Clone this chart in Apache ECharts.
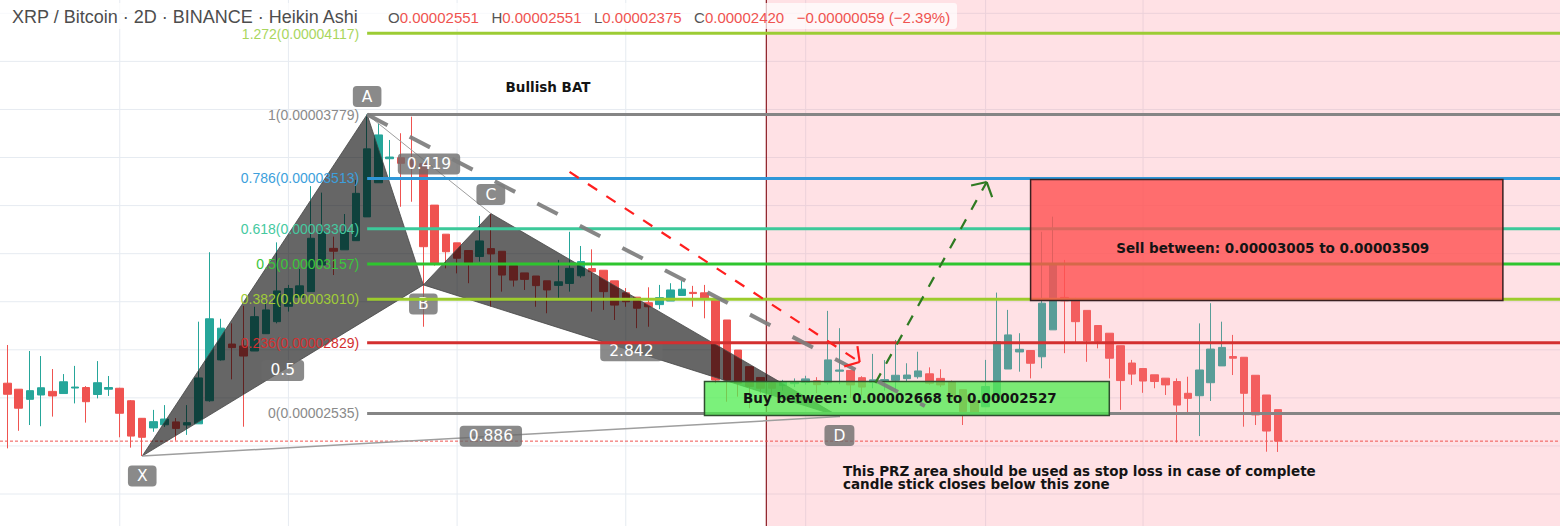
<!DOCTYPE html>
<html><head><meta charset="utf-8">
<script src="https://cdn.jsdelivr.net/npm/echarts@6/dist/echarts.min.js"></script>
<style>html,body{margin:0;padding:0;background:#fff;overflow:hidden}#c{width:1560px;height:526px}</style>
</head><body><div id="c"></div>
<script>
// ---- DATA (prices in satoshi, 1e-8 BTC; x = candle index, 2D candles) ----
const haOpen  = [2661,2636,2594,2612,2627,2618,2641,2643,2614,2636,2640,2588,2515,2475,2488,2500,2487,2492,2588,2758,2824,2816,2795,2867,2917,2981,3018,3042,3153,3222,3216,3254,3353,3495,3595,3599,3588,3574,3402,3281,3245,3213,3188,3221,3210,3150,3120,3107,3087,3068,3076,3108,3138,3131,3087,3037,3019,2996,2988,3003,3026,3039,3037,3010,2924,2799,2730,2685,2662,2651,2659,2664,2671,2663,2711,2714,2684,2665,2670,2673,2680,2688,2700,2681,2668,2634,2589,2563,2605,2720,2791,2797,2771,2883,3018,3011,2964,2901,2869,2817,2745,2722,2696,2682,2668,2619,2609,2663,2733,2772,2769,2694,2612,2551];
const haClose = [2615,2557,2630,2642,2608,2667,2645,2584,2663,2643,2536,2441,2436,2501,2512,2473,2497,2683,2929,2890,2809,2774,2938,2966,3045,3055,3066,3264,3291,3210,3291,3451,3636,3694,3602,3576,3560,3229,3160,3208,3181,3162,3253,3199,3111,3090,3093,3067,3049,3083,3139,3167,3125,3042,2986,3000,2973,2979,3017,3049,3052,3034,3010,2674,2674,2661,2647,2640,2640,2667,2668,2679,2655,2758,2716,2654,2645,2675,2676,2694,2695,2712,2661,2654,2600,2543,2536,2647,2834,2862,2802,2744,2994,3153,3004,2917,2838,2836,2765,2672,2699,2670,2668,2654,2570,2598,2716,2803,2810,2765,2619,2529,2462,2420];
const haLow   = [2390,2463,2487,2482,2522,2618,2577,2497,2598,2608,2436,2393,2358,2459,2479,2422,2446,2492,2584,2755,2677,2480,2795,2867,2910,2959,3018,3042,3153,3111,3216,3254,3353,3495,3507,3395,3416,2896,3150,3139,3118,3077,3167,2979,3042,3063,3049,2979,2952,3014,3042,3100,2959,2966,2924,2979,2890,2896,2969,3003,3026,2979,2931,2661,2584,2605,2557,2619,2600,2630,2645,2655,2620,2655,2657,2600,2610,2640,2630,2633,2667,2680,2655,2645,2590,2487,2530,2563,2600,2720,2709,2681,2723,2883,2786,2827,2750,2806,2681,2550,2654,2621,2640,2612,2414,2529,2441,2587,2733,2695,2480,2487,2376,2375];
const haHigh  = [2820,2636,2795,2774,2720,2699,2733,2649,2753,2691,2642,2591,2516,2550,2570,2516,2570,2917,3206,2929,2910,2983,2979,3000,3247,3070,3136,3481,3454,3271,3365,3507,3779,3742,3673,3701,3770,3574,3402,3281,3245,3213,3357,3367,3210,3150,3120,3107,3087,3174,3291,3232,3218,3131,3087,3057,3019,3060,3070,3077,3086,3066,3070,3010,2924,2799,2730,2685,2665,2675,2681,2692,2686,2962,2890,2714,2690,2783,2757,2841,2744,2792,2727,2719,2672,2634,2589,2758,3038,2966,2869,2797,3291,3354,3174,3016,2964,2901,2869,2817,2758,2722,2696,2682,2681,2688,2910,2994,2917,2862,2769,2694,2612,2551];
const lastChange = -59;          // satoshi
const lastChangePct = -2.39;     // %
const lastPrice = [2420];

// Fibonacci retracement (ratio, price)
const fibRatios = [1.272, 1, 0.786, 0.618, 0.5, 0.382, 0.236, 0];
const fibPrices = [4117, 3779, 3513, 3304, 3157, 3010, 2829, 2535];
const fibStart = 32;             // anchored at point A

// Bullish BAT harmonic points [candle index, price]
const patternNames = ['X', 'A', 'B', 'C', 'D'];
const patternPoints = [[12, 2358], [32, 3779], [37, 3070], [43, 3367], [74, 2522]];
const patternRatios = ['0.5', '0.419', '2.842', '0.886'];   // XB, AC, BD, XD

// Zones [x0, x1, priceLow, priceHigh]
const buyZone  = [62, 98, 2527, 2668];
const sellZone = [91, 133, 3005, 3509];

// Trend lines [[x, price], [x, price]]
const grayDashLine = [[32, 3779], [81.6, 2566]];
const redArrowLine = [[50, 3540], [75.8, 2749]];
const greenArrowLine = [[77.2, 2662], [87.1, 3498]];

// Session start (shaded area) and grid ticks
const sessionStart = [67.5];
const gridXTicks = [10, 25, 40, 55, 71, 87, 101];
const gridYTicks = [2200, 2400, 2600, 2800, 3000, 3200, 3400, 3600, 3800, 4000, 4200];

// ---- VIEW ----
const X_MIN = -0.649, X_MAX = 138.08, Y_MIN = 2066.9, Y_MAX = 4255.4;
const fmt = v => (v / 1e8).toFixed(8);
const fibColors = ['#9ccc34', '#858585', '#2f97d8', '#3cc99a', '#2ec52e', '#9ccc2c', '#d32f2f', '#858585'];
const fibTextColors = ['#a9d65e', '#8a8a8a', '#3d9fdc', '#45c9a0', '#3cc63c', '#a0cc38', '#d33030', '#8a8a8a'];
const BOLD = 'bold 13.5px "DejaVu Sans", Verdana, sans-serif';

function seg(a, b, stroke, w, dash) {
  return { type: 'line', shape: { x1: a[0], y1: a[1], x2: b[0], y2: b[1] },
    style: { stroke: stroke, lineWidth: w, lineDash: dash || null } };
}
function barbs(a, b, stroke, w, len, ang) {
  const dx = b[0] - a[0], dy = b[1] - a[1], L = Math.hypot(dx, dy);
  const ux = -dx / L, uy = -dy / L, out = [];
  [1, -1].forEach(s => {
    const c = Math.cos(s * ang), sn = Math.sin(s * ang);
    const vx = ux * c - uy * sn, vy = ux * sn + uy * c;
    out.push(seg(b, [b[0] + vx * len, b[1] + vy * len], stroke, w));
  });
  return out;
}

const candleData = haOpen.map((o, i) => [i, o, haClose[i], haLow[i], haHigh[i]]);
const P = {}; patternNames.forEach((n, i) => P[n] = patternPoints[i]);
const mid = (p, q) => [(p[0] + q[0]) / 2, (p[1] + q[1]) / 2];
const ratioAnchors = [mid(P.X, P.B), mid(P.A, P.C), mid(P.B, P.D), mid(P.X, P.D)];
const letterDy = { X: 20, A: -18, B: 19, C: -19, D: 19 };

const chart = echarts.init(document.getElementById('c'), null, { renderer: 'svg', width: 1560, height: 526 });
const option = {
  animation: false,
  backgroundColor: '#ffffff',
  grid: { left: 0, right: 0, top: 0, bottom: 0 },
  xAxis: { type: 'value', min: X_MIN, max: X_MAX, show: false, splitLine: { show: false } },
  yAxis: { type: 'value', min: Y_MIN, max: Y_MAX, show: false, splitLine: { show: false } },
  series: [
    { // grid lines
      type: 'custom', z: 1, silent: true,
      data: [[0, Y_MIN]],
      renderItem: (params, api) => {
        const ch = [];
        gridXTicks.forEach(x => ch.push(seg(api.coord([x, Y_MAX]), api.coord([x, Y_MIN]), '#e6ebf1', 1)));
        gridYTicks.forEach(y => ch.push(seg(api.coord([X_MIN, y]), api.coord([X_MAX, y]), '#e6ebf1', 1)));
        return { type: 'group', children: ch };
      }
    },
    {
      type: 'candlestick', z: 2, silent: true, barWidth: 8,
      data: candleData,
      itemStyle: { color: '#26a69a', color0: '#ef5350', borderColor: '#26a69a', borderColor0: '#ef5350', borderWidth: 1 }
    },
    { // shaded region
      type: 'custom', z: 3, silent: true,
      data: [[sessionStart[0], Y_MIN]],
      renderItem: (params, api) => {
        const a = api.coord([sessionStart[0], Y_MAX]), b = api.coord([X_MAX, Y_MIN]);
        return { type: 'group', children: [
          { type: 'rect', shape: { x: a[0], y: a[1], width: b[0] - a[0], height: b[1] - a[1] }, style: { fill: 'rgba(255,128,148,0.24)' } },
          seg([a[0], a[1]], [a[0], b[1]], '#8b1a22', 1.2)
        ] };
      }
    },
    { // last price dotted line
      type: 'custom', z: 4, silent: true,
      data: [[X_MIN, lastPrice[0]]],
      renderItem: (params, api) => seg(api.coord([X_MIN, lastPrice[0]]), api.coord([X_MAX, lastPrice[0]]), '#ef5350', 1, [3, 2])
    },
    { // harmonic pattern triangles, lines and labels
      type: 'custom', z: 5, silent: true,
      data: [P.X],
      renderItem: (params, api) => {
        const c = {}; patternNames.forEach(n => c[n] = api.coord(P[n]));
        const tri = pts => ({ type: 'polygon', shape: { points: pts },
          style: { fill: 'rgba(0,0,0,0.6)', stroke: 'rgba(70,70,70,0.8)', lineWidth: 1 } });
        const ch = [
          tri([c.X, c.A, c.B]), tri([c.B, c.C, c.D]),
          seg(c.X, c.D, '#9e9e9e', 1.5), seg(c.A, c.C, '#9e9e9e', 1)
        ];
        const box = (text, x, y) => ({ type: 'text', x: x, y: y, style: {
          text: text, fill: '#ffffff', font: '15.5px "DejaVu Sans", sans-serif', align: 'center', verticalAlign: 'middle',
          backgroundColor: 'rgba(105,105,105,0.78)', padding: [3, 9, 2, 9], borderRadius: 4 } });
        ratioAnchors.forEach((p, i) => { const q = api.coord(p); ch.push(box(patternRatios[i], q[0], q[1])); });
        patternNames.forEach(n => ch.push(box(n, c[n][0], c[n][1] + letterDy[n])));
        return { type: 'group', children: ch };
      }
    },
    { // fibonacci levels
      type: 'custom', z: 6, silent: true,
      data: fibPrices.map(p => [fibStart, p]),
      renderItem: (params, api) => {
        const i = params.dataIndex;
        const a = api.coord([fibStart, fibPrices[i]]), b = api.coord([X_MAX, fibPrices[i]]);
        return { type: 'group', children: [
          seg(a, b, fibColors[i], 3),
          { type: 'text', x: a[0] - 8, y: a[1] + (i === 0 ? 1 : 0), style: { text: String(fibRatios[i]) + '(' + fmt(fibPrices[i]) + ')',
            fill: fibTextColors[i], font: '14px "Liberation Sans", Arial, sans-serif', align: 'right', verticalAlign: 'middle' } }
        ] };
      }
    },
    { // zones
      type: 'custom', z: 7, silent: true,
      data: [[buyZone[0], buyZone[2]], [sellZone[0], sellZone[2]]],
      renderItem: (params, api) => {
        const isBuy = params.dataIndex === 0;
        const z = isBuy ? buyZone : sellZone;
        const a = api.coord([z[0], z[3]]), b = api.coord([z[1], z[2]]);
        const cx = (a[0] + b[0]) / 2 + (isBuy ? -7 : 6), cy = (a[1] + b[1]) / 2 + (isBuy ? 0 : 8);
        return { type: 'group', children: [
          { type: 'rect', shape: { x: a[0], y: a[1], width: b[0] - a[0], height: b[1] - a[1] },
            style: isBuy ? { fill: 'rgba(82,236,82,0.76)', stroke: '#2f4f2f', lineWidth: 1.5 }
                         : { fill: 'rgba(255,80,80,0.8)', stroke: '#3a2020', lineWidth: 1.5 } },
          { type: 'text', x: cx, y: cy, style: {
            text: (isBuy ? 'Buy between: ' + fmt(z[3]) + ' to ' + fmt(z[2]) : 'Sell between: ' + fmt(z[2]) + ' to ' + fmt(z[3])),
            fill: '#141414', font: BOLD, align: 'center', verticalAlign: 'middle' } }
        ] };
      }
    },
    { // dashed trend lines and arrows
      type: 'custom', z: 8, silent: true,
      data: [grayDashLine[0], redArrowLine[0], greenArrowLine[0]],
      renderItem: (params, api) => {
        const i = params.dataIndex;
        if (i === 0) {
          return seg(api.coord(grayDashLine[0]), api.coord(grayDashLine[1]), 'rgba(125,125,125,0.92)', 4, [23, 25]);
        }
        const L = i === 1 ? redArrowLine : greenArrowLine;
        const col = i === 1 ? '#ff1f1f' : '#2f7a22';
        const a = api.coord(L[0]), b = api.coord(L[1]);
        return { type: 'group', children: [seg(a, b, col, 2.2, [11, 11])].concat(barbs(a, b, col, 2.2, 16, 0.85)) };
      }
    }
  ],
  graphic: [
    { type: 'rect', z: 100, silent: true, shape: { x: 0, y: 3, width: 957, height: 26, r: 3 }, style: { fill: 'rgba(255,255,255,0.72)' } },
    { type: 'text', z: 101, silent: true, x: 12, y: 16.5, style: { text: 'XRP / Bitcoin · 2D · BINANCE · Heikin Ashi',
      font: '18px "Liberation Sans", Arial, sans-serif', fill: '#4d4d4d', verticalAlign: 'middle' } },
    { type: 'text', z: 101, silent: true, x: 388, y: 17, style: {
      text: '{k|O}{v|' + fmt(haOpen[113]) + '}   {k|H}{v|' + fmt(haHigh[113]) + '}   {k|L}{v|' + fmt(haLow[113]) + '}   {k|C}{v|' + fmt(haClose[113]) + '}   {v|\u2212' + fmt(-lastChange) + ' (\u2212' + (-lastChangePct).toFixed(2) + '%)}',
      verticalAlign: 'middle', font: '15px "Liberation Sans", Arial, sans-serif',
      rich: { k: { fill: '#555555', fontSize: 15, fontFamily: 'Liberation Sans' }, v: { fill: '#ef5350', fontSize: 15, fontFamily: 'Liberation Sans' } } } },
    { type: 'text', z: 101, silent: true, x: 548, y: 87, style: { text: 'Bullish BAT', font: BOLD, fill: '#141414', align: 'center', verticalAlign: 'middle' } },
    { type: 'text', z: 101, silent: true, x: 843, y: 464, style: {
      text: 'This PRZ area should be used as stop loss in case of complete\ncandle stick closes below this zone',
      font: BOLD, fill: '#141414', lineHeight: 13 } }
  ]
};
chart.setOption(option);
</script>
</body></html>
